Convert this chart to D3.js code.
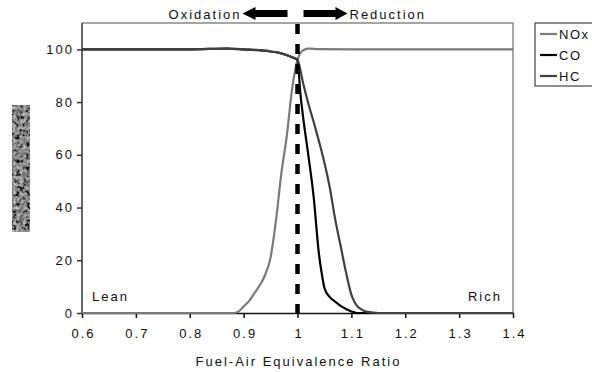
<!DOCTYPE html>
<html>
<head>
<meta charset="utf-8">
<script src="https://cdn.jsdelivr.net/npm/d3@7"></script>
<style>
  body { margin: 0; background: #fff; }
  svg { display: block; font-family: "Liberation Sans", Arial, sans-serif; }
  .axis text { font-size: 13px; letter-spacing: 2px; fill: #111; }
  .lbl { font-size: 13px; letter-spacing: 2px; fill: #111; }
</style>
</head>
<body>
<svg width="592" height="372" viewBox="0 0 592 372"></svg>
<script>
// values (conversion %, vs fuel-air equivalence ratio)
let noxX = [0.6, 0.8, 0.88, 0.89, 0.9, 0.91, 0.92, 0.93, 0.94, 0.95, 0.96, 0.97, 0.98, 0.99, 1.0, 1.01, 1.02, 1.04, 1.1, 1.4];
let noxY = [0, 0, 0, 0.5, 2.5, 4.5, 7.5, 10.5, 14.5, 21, 35, 53, 67, 85, 96, 99.6, 100.3, 100.1, 100, 100];

let coX = [0.6, 0.8, 0.87, 0.9, 0.95, 0.97, 0.99, 1.0, 1.005, 1.01, 1.02, 1.03, 1.04, 1.045, 1.05, 1.06, 1.07, 1.08, 1.09, 1.1, 1.11, 1.4];
let coY = [100, 100, 100.3, 100, 99.2, 98.5, 97, 96, 84, 75, 60, 44, 22, 15, 9.5, 6, 4.3, 2.7, 1.5, 0.6, 0, 0];

let hcX = [0.6, 0.8, 0.87, 0.9, 0.95, 0.97, 0.99, 1.0, 1.01, 1.02, 1.03, 1.04, 1.05, 1.06, 1.07, 1.08, 1.09, 1.1, 1.105, 1.11, 1.12, 1.13, 1.15, 1.4];
let hcY = [100, 100, 100.3, 100, 99.2, 98.5, 97, 96, 87.5, 79.5, 72.5, 65, 57, 47.5, 35.5, 25.5, 15.5, 7, 4.5, 2.8, 1.2, 0.4, 0, 0];

let xTicks = [0.6, 0.7, 0.8, 0.9, 1.0, 1.1, 1.2, 1.3, 1.4];
let yTicks = [0, 20, 40, 60, 80, 100];

let series = [
  { name: "NOx", xs: noxX, ys: noxY, color: "#7a7a7a" },
  { name: "CO", xs: coX, ys: coY, color: "#000000" },
  { name: "HC", xs: hcX, ys: hcY, color: "#404040" },
];

let svg = d3.select("svg");
let plot = { left: 82, right: 513, top: 23, bottom: 313 };

let xScale = d3.scaleLinear().domain([0.6, 1.4]).range([plot.left, plot.right]);
let yScale = d3.scaleLinear().domain([0, 110]).range([plot.bottom, plot.top]);

// noisy grey box standing in for the unreadable y axis title
let defs = svg.append("defs");
let filt = defs.append("filter").attr("id", "noise").attr("x", 0).attr("y", 0).attr("width", 1).attr("height", 1);
filt.append("feTurbulence").attr("type", "fractalNoise").attr("baseFrequency", 0.3).attr("numOctaves", 3).attr("seed", 7);
filt.append("feColorMatrix").attr("type", "matrix")
  .attr("values", "1.2 1.2 0 0 -0.9  1.2 1.2 0 0 -0.9  1.2 1.2 0 0 -0.9  0 0 0 0 1");
svg.append("rect").attr("x", 12).attr("y", 105).attr("width", 18).attr("height", 127)
  .attr("fill", "#555");
svg.append("rect").attr("x", 12).attr("y", 105).attr("width", 18).attr("height", 127)
  .attr("filter", "url(#noise)").attr("opacity", 0.75);

// frame: top and right edges in grey
svg.append("path")
  .attr("d", `M${plot.left},${plot.top}H${plot.right}V${plot.bottom}`)
  .attr("fill", "none").attr("stroke", "#888").attr("stroke-width", 1.5);

let xAxis = svg.append("g").attr("class", "axis")
  .attr("transform", `translate(0,${plot.bottom})`)
  .call(d3.axisBottom(xScale).tickValues(xTicks).tickSize(5).tickSizeOuter(0).tickPadding(11)
    .tickFormat((d) => String(+d.toFixed(1))));
xAxis.selectAll("line, path").attr("stroke", "#111").attr("stroke-width", 1.5);
xAxis.selectAll("text").attr("dx", "1px");

let yAxis = svg.append("g").attr("class", "axis")
  .attr("transform", `translate(${plot.left},0)`)
  .call(d3.axisLeft(yScale).tickValues(yTicks).tickSize(5).tickSizeOuter(0).tickPadding(3));
yAxis.selectAll("line, path").attr("stroke", "#333").attr("stroke-width", 1.5);
yAxis.select(".domain").attr("d", `M0,${plot.bottom}V${plot.top}`);

// curves
let line = d3.line()
  .x((d) => xScale(d[0]))
  .y((d) => yScale(d[1]))
  .curve(d3.curveMonotoneX);

let fig = svg.append("g");
series.forEach((s) => {
  fig.append("path")
    .datum(s.xs.map((x, i) => [x, s.ys[i]]))
    .attr("d", line)
    .attr("fill", "none")
    .attr("stroke", s.color)
    .attr("stroke-width", 2.2)
    .attr("stroke-linejoin", "round");
});

// stoichiometric divider
svg.append("line")
  .attr("x1", xScale(1.0)).attr("x2", xScale(1.0))
  .attr("y1", plot.top + 1).attr("y2", plot.bottom)
  .attr("stroke", "#000").attr("stroke-width", 4.5)
  .attr("stroke-dasharray", "10,10");

// arrows and labels over the plot
let cx = xScale(1.0);
svg.append("path")
  .attr("d", `M${cx - 10},10H${cx - 42}V7L${cx - 55},13.5L${cx - 42},20V17H${cx - 10}Z`)
  .attr("fill", "#000");
svg.append("path")
  .attr("d", `M${cx + 6},10H${cx + 38}V7L${cx + 50},13.5L${cx + 38},20V17H${cx + 6}Z`)
  .attr("fill", "#000");
svg.append("text").attr("class", "lbl").attr("x", cx - 56).attr("y", 19)
  .attr("text-anchor", "end").text("Oxidation");
svg.append("text").attr("class", "lbl").attr("x", cx + 52).attr("y", 19)
  .text("Reduction");

svg.append("text").attr("class", "lbl").attr("x", 92).attr("y", 301).text("Lean");
svg.append("text").attr("class", "lbl").attr("x", 502).attr("y", 301)
  .attr("text-anchor", "end").text("Rich");

svg.append("text").attr("class", "lbl").attr("x", (plot.left + plot.right) / 2 + 1).attr("y", 366)
  .attr("text-anchor", "middle").text("Fuel-Air Equivalence Ratio");

// legend
let legend = svg.append("g").attr("transform", "translate(535,23)");
legend.append("rect").attr("width", 70).attr("height", 63)
  .attr("fill", "#fff").attr("stroke", "#444").attr("stroke-width", 1.2);
let items = legend.selectAll(".item").data(series).enter().append("g")
  .attr("transform", (d, i) => `translate(0,${11 + i * 21})`);
items.append("line").attr("x1", 5).attr("x2", 22)
  .attr("stroke", (d) => d.color).attr("stroke-width", 2.2);
items.append("text").attr("class", "lbl").attr("x", 24).attr("dy", "0.35em")
  .style("letter-spacing", "1.5px")
  .text((d) => d.name);
</script>
</body>
</html>
